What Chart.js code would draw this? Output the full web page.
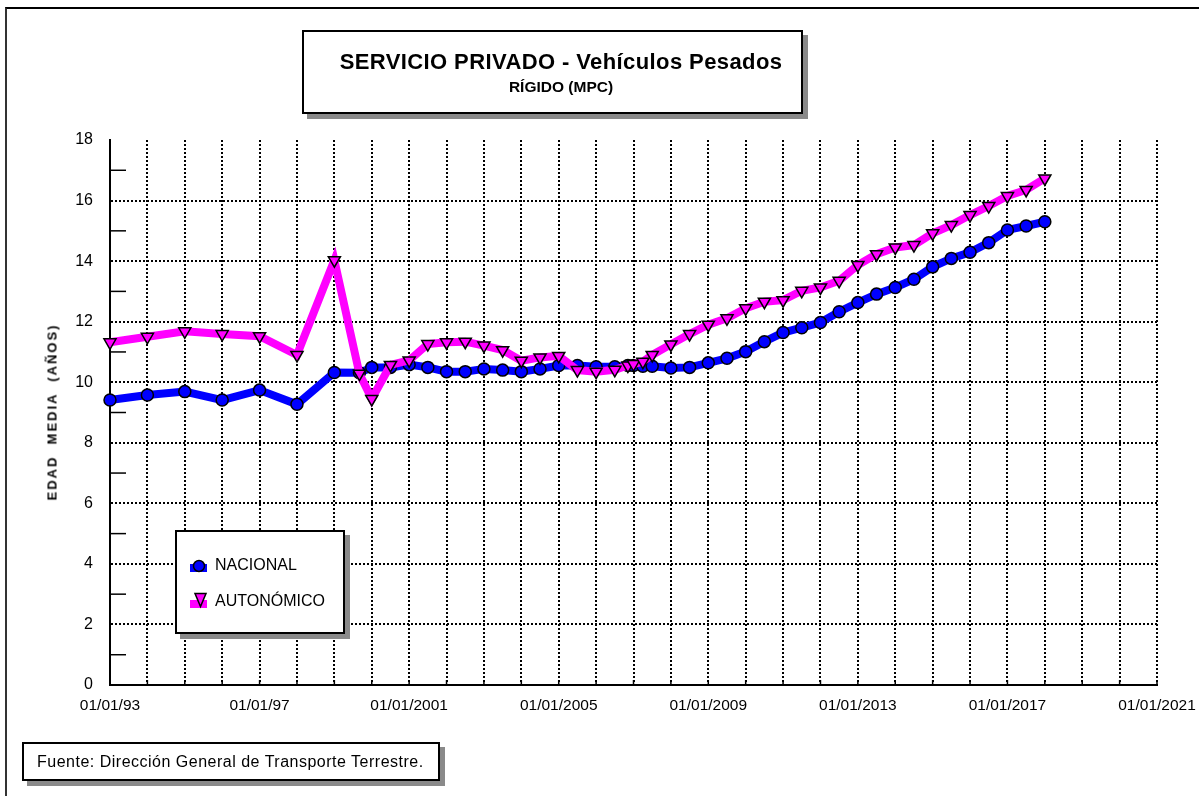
<!DOCTYPE html>
<html><head><meta charset="utf-8">
<script src="https://cdn.jsdelivr.net/npm/chart.js@4.4.1/dist/chart.umd.min.js"></script>
<style>
html,body{margin:0;padding:0;background:#fff;}
#wrap{position:relative;width:1199px;height:796px;overflow:hidden;font-family:'Liberation Sans',Arial,sans-serif;color:#000;}
.frame{position:absolute;left:5px;top:7px;width:1300px;height:1000px;border-left:2px solid #333;border-top:2px solid #000;}
canvas{position:absolute;left:0;top:0;}
.box{position:absolute;background:#fff;border:2px solid #000;box-shadow:5px 5px 0 #8a8a8a;box-sizing:border-box;}
.t{position:absolute;white-space:pre;}
</style></head>
<body><div id="wrap">
<div class="frame"></div>
<canvas id="c" width="1199" height="796"></canvas>
<div class="box" style="left:302px;top:30px;width:501px;height:84px;"></div>
<div class="t" style="left:561px;top:62px;transform:translate(-50%,-50%);font-weight:bold;font-size:22px;letter-spacing:0.4px;">SERVICIO PRIVADO - Vehículos Pesados</div>
<div class="t" style="left:561px;top:87px;transform:translate(-50%,-50%);font-weight:bold;font-size:15.5px;">RÍGIDO (MPC)</div>
<div class="t" style="left:52px;top:412px;transform:translate(-50%,-50%) rotate(-90deg);font-weight:bold;font-size:13px;letter-spacing:2px;">EDAD  MEDIA  (AÑOS)</div>
<div class="box" style="left:175px;top:530px;width:170px;height:104px;"></div>
<svg style="position:absolute;left:188px;top:558px" width="22" height="16"><rect x="2" y="6" width="17" height="8" fill="#0000ff"/><circle cx="11" cy="8" r="5.5" fill="#0000ff" stroke="#000" stroke-width="1.5"/></svg>
<div class="t" style="left:215px;top:565px;transform:translateY(-50%);font-size:16px;">NACIONAL</div>
<svg style="position:absolute;left:188px;top:590px" width="22" height="20"><rect x="2" y="10" width="17" height="8" fill="#ff00ff"/><polygon points="7,3.5 18,3.5 12.5,16.5" fill="#ff00ff" stroke="#000" stroke-width="1.5"/></svg>
<div class="t" style="left:215px;top:601px;transform:translateY(-50%);font-size:16px;">AUTONÓMICO</div>
<div class="box" style="left:22px;top:742px;width:418px;height:39px;"></div>
<div class="t" style="left:37px;top:762px;transform:translateY(-50%);font-size:16px;letter-spacing:0.5px;">Fuente: Dirección General de Transporte Terrestre.</div>
</div>
<script>
const anos = [1993,1994,1995,1996,1997,1998,1999,1999.67,2000,2000.5,2001,2001.5,2002,2002.5,2003,2003.5,2004,2004.5,2005,2005.5,2006,2006.5,2006.85,2007,2007.25,2007.5,2008,2008.5,2009,2009.5,2010,2010.5,2011,2011.5,2012,2012.5,2013,2013.5,2014,2014.5,2015,2015.5,2016,2016.5,2017,2017.5,2018];
const nacional = [9.41,9.58,9.69,9.41,9.74,9.27,10.32,10.31,10.49,10.49,10.58,10.49,10.35,10.35,10.44,10.40,10.35,10.44,10.55,10.55,10.51,10.51,10.55,10.55,10.53,10.53,10.47,10.49,10.64,10.79,11.01,11.34,11.64,11.80,11.97,12.33,12.63,12.91,13.13,13.40,13.81,14.09,14.29,14.61,15.03,15.16,15.30];
const autonomico = [11.32,11.50,11.68,11.59,11.52,10.90,14.03,10.28,9.45,10.57,10.72,11.26,11.32,11.34,11.21,11.06,10.71,10.82,10.87,10.40,10.35,10.41,10.55,10.60,10.68,10.90,11.25,11.59,11.90,12.11,12.44,12.66,12.71,13.02,13.13,13.35,13.87,14.23,14.45,14.53,14.92,15.19,15.52,15.82,16.15,16.35,16.73];
const anosEtiqueta = [1993,1997,2001,2005,2009,2013,2017,2021];
const etiquetasX = ['01/01/93','01/01/97','01/01/2001','01/01/2005','01/01/2009','01/01/2013','01/01/2017','01/01/2021'];
const nombres = ['NACIONAL','AUTONÓMICO'];

const FONT = "'Liberation Sans', Arial, sans-serif";

const marcas = {
  id: 'marcas',
  beforeDatasetsDraw(chart) {
    const {ctx, scales: {x, y}} = chart;
    ctx.save();
    ctx.strokeStyle = '#000';
    ctx.lineWidth = 1.5;
    for (let v = 1; v < 18; v += 2) {
      const py = y.getPixelForValue(v);
      ctx.beginPath(); ctx.moveTo(x.left, py); ctx.lineTo(x.left + 16, py); ctx.stroke();
    }
    for (let a = 1994; a <= 2021; a++) {
      const px = x.getPixelForValue(a);
      ctx.beginPath(); ctx.moveTo(px, y.bottom); ctx.lineTo(px, y.bottom - 5); ctx.stroke();
    }
    ctx.restore();
  }
};

new Chart(document.getElementById('c'), {
  type: 'line',
  data: {
    datasets: [
      {
        label: nombres[1],
        data: anos.map((a, i) => ({x: a, y: autonomico[i]})),
        borderColor: '#ff00ff', borderWidth: 8,
        pointStyle: 'triangle', rotation: 180, pointRadius: 7,
        pointBackgroundColor: '#ff00ff', pointBorderColor: '#000', pointBorderWidth: 1.5,
        tension: 0, clip: false, order: 0
      },
      {
        label: nombres[0],
        data: anos.map((a, i) => ({x: a, y: nacional[i]})),
        borderColor: '#0000ff', borderWidth: 8,
        pointStyle: 'circle', pointRadius: 6,
        pointBackgroundColor: '#0000ff', pointBorderColor: '#000', pointBorderWidth: 1.5,
        tension: 0, clip: false, order: 1
      }
    ]
  },
  options: {
    responsive: false, animation: false, devicePixelRatio: 1,
    layout: {padding: {left: 0, top: 140, right: 42, bottom: 0}},
    plugins: {legend: {display: false}, title: {display: false}, tooltip: {enabled: false}},
    scales: {
      x: {
        type: 'linear', min: 1993, max: 2021,
        afterFit: s => { s.height = 111; s.paddingRight = 0; s.paddingLeft = 0; },
        ticks: {
          stepSize: 1, autoSkip: false, maxRotation: 0, minRotation: 0, padding: 11,
          color: '#000', font: {family: FONT, size: 15.5},
          callback: v => { const i = anosEtiqueta.indexOf(v); return i >= 0 ? etiquetasX[i] : ''; }
        },
        grid: {
          drawTicks: false, lineWidth: 2,
          color: c => (c.tick && (c.tick.value === 1993)) ? 'rgba(0,0,0,0)' : '#000'
        },
        border: {display: true, color: '#000', width: 2, dash: [2, 2]}
      },
      y: {
        min: 0, max: 18,
        afterFit: s => { s.width = 110; },
        ticks: {stepSize: 2, padding: 17, color: '#000', font: {family: FONT, size: 16}},
        grid: {
          drawTicks: false, lineWidth: 2,
          color: c => (c.tick && (c.tick.value === 0 || c.tick.value === 18)) ? 'rgba(0,0,0,0)' : '#000'
        },
        border: {display: true, color: '#000', width: 2, dash: [2, 2]}
      }
    }
  },
  plugins: [marcas]
});
</script>
</body></html>
